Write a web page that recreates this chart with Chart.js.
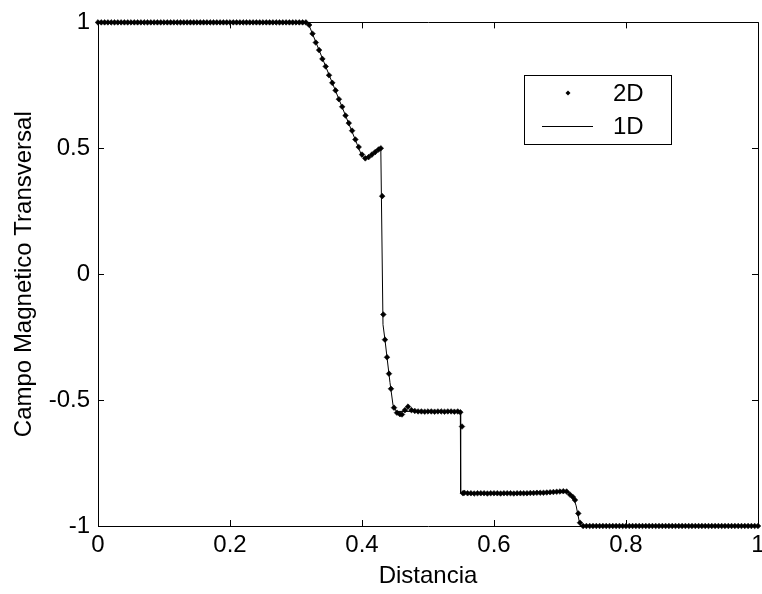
<!DOCTYPE html>
<html>
<head>
<meta charset="utf-8">
<script src="https://cdn.jsdelivr.net/npm/chart.js@4.4.1/dist/chart.umd.min.js"></script>
<style>
  html, body { margin: 0; padding: 0; background: #fff; overflow: hidden; }
  #caja { width: 762px; height: 594px; overflow: hidden; }
</style>
</head>
<body>
<div id="caja"><canvas id="grafico" width="780" height="594"></canvas></div>
<script>
// simulacion 2D (puntos)
const distancia2D = [
    0, 0.005, 0.01, 0.015, 0.02, 0.025, 0.03, 0.035, 0.04, 0.045,
    0.05, 0.055, 0.06, 0.065, 0.07, 0.075, 0.08, 0.085, 0.09, 0.095,
    0.1, 0.105, 0.11, 0.115, 0.12, 0.125, 0.13, 0.135, 0.14, 0.145,
    0.15, 0.155, 0.16, 0.165, 0.17, 0.175, 0.18, 0.185, 0.19, 0.195,
    0.2, 0.205, 0.21, 0.215, 0.22, 0.225, 0.23, 0.235, 0.24, 0.245,
    0.25, 0.255, 0.26, 0.265, 0.27, 0.275, 0.28, 0.285, 0.29, 0.295,
    0.3, 0.305, 0.31, 0.315,
    0.32, 0.325, 0.33, 0.335, 0.34, 0.345, 0.35, 0.355, 0.36, 0.365,
    0.37, 0.375, 0.38, 0.385, 0.39, 0.395, 0.4, 0.405, 0.41, 0.415,
    0.42, 0.425, 0.4285,
    0.4306, 0.4323, 0.4348, 0.4379, 0.4409, 0.4439, 0.4485, 0.453, 0.4575, 0.4606,
    0.465, 0.4697,
    0.475, 0.48, 0.485, 0.49, 0.495, 0.5, 0.505, 0.51, 0.515, 0.52,
    0.525, 0.53, 0.535, 0.54, 0.545, 0.549,
    0.5515, 0.553,
    0.555, 0.56, 0.565, 0.57, 0.575, 0.58, 0.585, 0.59, 0.595, 0.6,
    0.605, 0.61, 0.615, 0.62, 0.625, 0.63, 0.635, 0.64, 0.645, 0.65,
    0.655, 0.66, 0.665, 0.67, 0.675, 0.68, 0.685, 0.69, 0.695, 0.7,
    0.705, 0.71, 0.715, 0.7195, 0.7227, 0.7277, 0.7303,
    0.735, 0.74, 0.745, 0.75, 0.755, 0.76, 0.765, 0.77, 0.775, 0.78,
    0.785, 0.79, 0.795, 0.8, 0.805, 0.81, 0.815, 0.82, 0.825, 0.83,
    0.835, 0.84, 0.845, 0.85, 0.855, 0.86, 0.865, 0.87, 0.875, 0.88,
    0.885, 0.89, 0.895, 0.9, 0.905, 0.91, 0.915, 0.92, 0.925, 0.93,
    0.935, 0.94, 0.945, 0.95, 0.955, 0.96, 0.965, 0.97, 0.975, 0.98,
    0.985, 0.99, 0.995, 1
];
const campo2D = [
    1, 1, 1, 1, 1, 1, 1, 1, 1, 1,
    1, 1, 1, 1, 1, 1, 1, 1, 1, 1,
    1, 1, 1, 1, 1, 1, 1, 1, 1, 1,
    1, 1, 1, 1, 1, 1, 1, 1, 1, 1,
    1, 1, 1, 1, 1, 1, 1, 1, 1, 1,
    1, 1, 1, 1, 1, 1, 1, 1, 1, 1,
    1, 1, 1, 1,
    0.99, 0.955, 0.92, 0.89, 0.855, 0.825, 0.79, 0.76, 0.73, 0.695,
    0.665, 0.63, 0.6, 0.57, 0.535, 0.505, 0.475, 0.46, 0.465, 0.475,
    0.485, 0.495, 0.5,
    0.31, -0.16, -0.26, -0.33, -0.395, -0.455, -0.53, -0.55, -0.556, -0.557,
    -0.54, -0.526,
    -0.54, -0.543, -0.545, -0.545, -0.546, -0.545, -0.545, -0.546, -0.545, -0.545,
    -0.546, -0.545, -0.545, -0.546, -0.545, -0.548,
    -0.605, -0.87,
    -0.868, -0.87, -0.87, -0.871, -0.87, -0.87, -0.87, -0.871, -0.87, -0.87,
    -0.87, -0.871, -0.87, -0.87, -0.87, -0.871, -0.87, -0.87, -0.87, -0.87,
    -0.869, -0.869, -0.868, -0.868, -0.868, -0.867, -0.866, -0.865, -0.864, -0.863,
    -0.862, -0.863, -0.875, -0.885, -0.897, -0.95, -0.987,
    -1, -1, -1, -1, -1, -1, -1, -1, -1, -1,
    -1, -1, -1, -1, -1, -1, -1, -1, -1, -1,
    -1, -1, -1, -1, -1, -1, -1, -1, -1, -1,
    -1, -1, -1, -1, -1, -1, -1, -1, -1, -1,
    -1, -1, -1, -1, -1, -1, -1, -1, -1, -1,
    -1, -1, -1, -1
];

// simulacion 1D (linea)
const distancia1D = [0, 0.318, 0.4, 0.405, 0.415, 0.4285, 0.4318, 0.4348, 0.4379, 0.4424,
    0.447, 0.452, 0.549, 0.5495, 0.712, 0.7195, 0.7245, 0.729, 0.731, 1];
const campo1D = [1, 1, 0.468, 0.461, 0.475, 0.5, -0.2, -0.26, -0.33, -0.43,
    -0.52, -0.545, -0.545, -0.87, -0.865, -0.88, -0.92, -0.98, -1, -1];

const ticksX = [0, 0.2, 0.4, 0.6, 0.8, 1];
const etiquetasX = ["0", "0.2", "0.4", "0.6", "0.8", "1"];
const ticksY = [-1, -0.5, 0, 0.5, 1];
const etiquetasY = ["-1", "-0.5", "0", "0.5", "1"];

const fuente = "'Liberation Sans', Arial, sans-serif";

function pares(xs, ys) {
    return xs.map((x, i) => ({ x: x, y: ys[i] }));
}

function etiqueta(valores, textos) {
    return function (v) {
        const i = valores.findIndex(t => Math.abs(t - v) < 1e-6);
        return i >= 0 ? textos[i] : "";
    };
}

// caja estilo matlab con marcas hacia adentro + leyenda
const cajaEjes = {
    id: "cajaEjes",
    afterDraw(chart) {
        const ctx = chart.ctx;
        const a = chart.chartArea;
        const sx = chart.scales.x;
        const sy = chart.scales.y;
        const largo = 6;
        ctx.save();
        ctx.strokeStyle = "#000";
        ctx.lineWidth = 1;
        ctx.beginPath();
        ctx.rect(Math.round(a.left) + 0.5, Math.round(a.top) + 0.5,
            Math.round(a.right - a.left), Math.round(a.bottom - a.top));
        ticksX.forEach(t => {
            const px = Math.round(sx.getPixelForValue(t)) + 0.5;
            ctx.moveTo(px, a.bottom);
            ctx.lineTo(px, a.bottom - largo);
            ctx.moveTo(px, a.top);
            ctx.lineTo(px, a.top + largo);
        });
        ticksY.forEach(t => {
            const py = Math.round(sy.getPixelForValue(t)) + 0.5;
            ctx.moveTo(a.left, py);
            ctx.lineTo(a.left + largo, py);
            ctx.moveTo(a.right, py);
            ctx.lineTo(a.right - largo, py);
        });
        ctx.stroke();

        // leyenda
        const lx = 524.5, ly = 75.5, lw = 147, lh = 69;
        ctx.fillStyle = "#fff";
        ctx.fillRect(lx, ly, lw, lh);
        ctx.strokeRect(lx, ly, lw, lh);

        ctx.fillStyle = "#000";
        ctx.beginPath();
        ctx.moveTo(568, 90.5);
        ctx.lineTo(570.5, 93);
        ctx.lineTo(568, 95.5);
        ctx.lineTo(565.5, 93);
        ctx.closePath();
        ctx.fill();

        ctx.beginPath();
        ctx.moveTo(542, 126.5);
        ctx.lineTo(593, 126.5);
        ctx.stroke();

        ctx.font = "24px " + fuente;
        ctx.textBaseline = "middle";
        ctx.textAlign = "left";
        ctx.fillText("2D", 613, 94);
        ctx.fillText("1D", 613, 127);
        ctx.restore();
    }
};

new Chart(document.getElementById("grafico"), {
    type: "scatter",
    data: {
        datasets: [
            {
                label: "2D",
                data: pares(distancia2D, campo2D),
                showLine: false,
                pointStyle: "rectRot",
                pointRadius: 2.8,
                backgroundColor: "#000",
                borderColor: "#000",
                borderWidth: 0.6,
                clip: false
            },
            {
                label: "1D",
                data: pares(distancia1D, campo1D),
                showLine: true,
                pointRadius: 0,
                borderColor: "#000",
                borderWidth: 1,
                tension: 0,
                clip: false
            }
        ]
    },
    plugins: [cajaEjes],
    options: {
        responsive: false,
        animation: false,
        layout: { padding: { top: 20, right: 22, left: 0, bottom: 0 } },
        plugins: {
            legend: { display: false },
            tooltip: { enabled: false }
        },
        scales: {
            x: {
                type: "linear",
                min: 0,
                max: 1,
                grid: { display: false, drawTicks: false },
                border: { display: false },
                afterBuildTicks: s => { s.ticks = ticksX.map(v => ({ value: v })); },
                afterFit: s => { s.height = 68; },
                ticks: {
                    autoSkip: false,
                    maxRotation: 0,
                    padding: 5,
                    color: "#000",
                    font: { size: 24, family: fuente },
                    callback: etiqueta(ticksX, etiquetasX)
                },
                title: {
                    display: true,
                    text: "Distancia",
                    color: "#000",
                    font: { size: 24, family: fuente },
                    padding: { top: 0, bottom: 3 }
                }
            },
            y: {
                type: "linear",
                min: -1,
                max: 1,
                grid: { display: false, drawTicks: false },
                border: { display: false },
                afterBuildTicks: s => { s.ticks = ticksY.map(v => ({ value: v })); },
                afterFit: s => { s.width = 98; },
                ticks: {
                    autoSkip: false,
                    padding: 8,
                    color: "#000",
                    font: { size: 24, family: fuente },
                    callback: etiqueta(ticksY, etiquetasY)
                },
                title: {
                    display: true,
                    text: "Campo Magnetico Transversal",
                    color: "#000",
                    font: { size: 24, family: fuente },
                    padding: { top: 10, bottom: 0 }
                }
            }
        }
    }
});
</script>
</body>
</html>
